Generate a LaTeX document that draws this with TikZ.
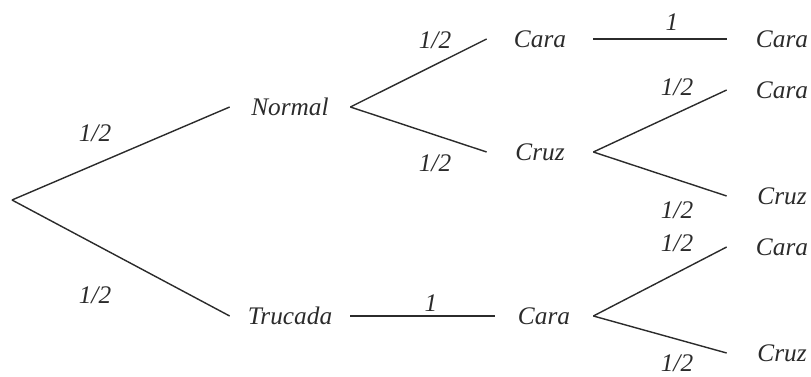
\documentclass[tikz,border=0pt]{standalone}
\usepackage{fontspec}
\setmainfont{Liberation Serif}
\usetikzlibrary{positioning}
\definecolor{myink}{HTML}{2B2B2B}
\tikzset{
	outcomenode/.style={
			font=\fontsize{14.4}{17}\selectfont\itshape,
			text=myink,
			inner sep=0pt,
			minimum height=5mm,
			minimum width=#1
		},
	outcomenode/.default=24mm,
	problabel/.style={
			font=\fontsize{14.4}{17}\selectfont\itshape,
			text=myink,
			inner sep=0pt
		},
	branchline/.style={
			draw=myink,
			line width=0.8pt
		}
}

\begin{document}
\begin{tikzpicture}
\useasboundingbox (0,0) rectangle (16.22,7.52);

\coordinate (tR) at (0.24,3.52);
\node[outcomenode=24mm] (tN) at (5.8,5.38) {Normal};
\node[outcomenode=24mm] (tT) at (5.8,1.20) {Trucada};
\node[outcomenode=21.2mm] (tNA) at (10.8,6.74) {Cara};
\node[outcomenode=21.2mm] (tNB) at (10.8,4.48) {Cruz};
\node[outcomenode=19.6mm] (tTA) at (10.88,1.20) {Cara};
\node[outcomenode=22mm] (tNAA) at (15.64,6.74) {Cara};
\node[outcomenode=22mm] (tNBA) at (15.64,5.72) {Cara};
\node[outcomenode=22mm] (tNBB) at (15.64,3.60) {Cruz};
\node[outcomenode=22mm] (tTAA) at (15.64,2.58) {Cara};
\node[outcomenode=22mm] (tTAB) at (15.64,0.46) {Cruz};

% probabilities
\node[problabel] (pN) at (1.90,4.86) {1/2};
\node[problabel] (pT) at (1.90,1.62) {1/2};
\node[problabel] (pNA) at (8.70,6.72) {1/2};
\node[problabel] (pNB) at (8.70,4.26) {1/2};
\node[problabel] (pTA) at (8.62,1.46) {1};
\node[problabel] (pNAA) at (13.44,7.08) {1};
\node[problabel] (pNBA) at (13.54,5.78) {1/2};
\node[problabel] (pNBB) at (13.54,3.32) {1/2};
\node[problabel] (pTAA) at (13.54,2.66) {1/2};
\node[problabel] (pTAB) at (13.54,0.26) {1/2};

\draw[branchline] (tR) -- (tN.west);
\draw[branchline] (tR) -- (tT.west);
\draw[branchline] (tN.east) -- (tNA.west);
\draw[branchline] (tN.east) -- (tNB.west);
\draw[branchline] (tNA.east) -- (tNAA.west);
\draw[branchline] (tNB.east) -- (tNBA.west);
\draw[branchline] (tNB.east) -- (tNBB.west);
\draw[branchline] (tT.east) -- (tTA.west);
\draw[branchline] (tTA.east) -- (tTAA.west);
\draw[branchline] (tTA.east) -- (tTAB.west);
\end{tikzpicture}
\end{document}
